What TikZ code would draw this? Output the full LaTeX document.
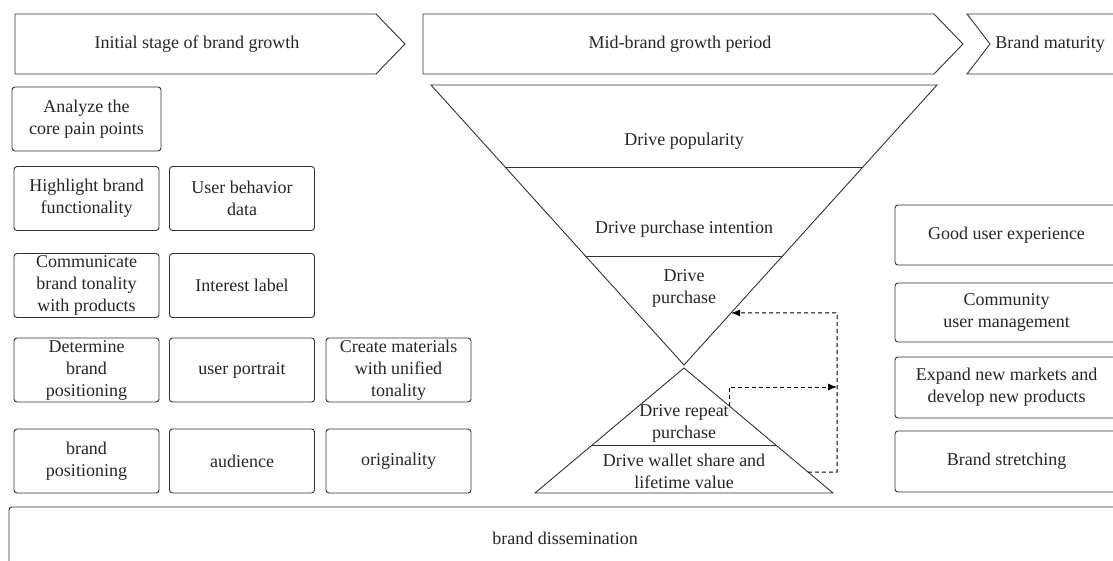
\documentclass[tikz,border=0pt]{standalone}
\usepackage{fontspec}
\setmainfont{Liberation Serif}
\usetikzlibrary{arrows.meta,calc}
\begin{document}
\begin{tikzpicture}[x=1pt,y=-1pt,line width=0.9pt,
    every node/.style={text=black!85,font=\fontsize{18}{22}\selectfont,align=center,inner sep=0pt},
    card/.style={draw=black!80,rounded corners=3pt,minimum width=#1,minimum height=64pt},
    card/.default=145pt,
    flow/.style={draw=black,line width=1pt,dash pattern=on 4pt off 3pt,-{Latex[length=9pt,width=7pt]}}]
    \useasboundingbox (0,0) rectangle (1113,561);
    \clip (0,0) rectangle (1113,561);
    \draw[black!80] (15,14) -- (376,14) -- (405,44) -- (376,74) -- (15,74) -- cycle;
    \draw[black!80] (423,14) -- (934,14) -- (963,44) -- (934,74) -- (423,74) -- cycle;
    \draw[black!80] (967,14) -- (1130,14) -- (1130,74) -- (967,74) -- (990,44) -- cycle;
    \node (initial) at (197,44) {Initial stage of brand growth};
    \node (mid) at (680,44) {Mid-brand growth period};
    \node[anchor=west] (mature) at (995,44) {Brand maturity};
    \coordinate (ftl) at (431,85);
    \coordinate (ftr) at (937,85);
    \coordinate (fb) at (684,365);
    \coordinate (ta) at (684,368);
    \coordinate (tl) at (535,493);
    \coordinate (tr) at (833,493);
    \draw[black!80] (ftl) -- (ftr) -- (fb) -- cycle;
    \draw[black!80] ($(ftl)!0.293!(fb)$) -- ($(ftr)!0.293!(fb)$);
    \draw[black!80] ($(ftl)!0.614!(fb)$) -- ($(ftr)!0.614!(fb)$);
    \draw[black!80] (ta) -- (tr) -- (tl) -- cycle;
    \draw[black!80] ($(ta)!0.616!(tl)$) -- ($(ta)!0.616!(tr)$);
    \node (popularity) at (684,141) {Drive popularity};
    \node (intention) at (684,229) {Drive purchase intention};
    \node (purchase) at (684,288) {Drive\\purchase};
    \node (repeat) at (684,423) {Drive repeat\\purchase};
    \node (wallet) at (684,471) {Drive wallet share and\\lifetime value};
    \node[card=149pt] (pain) at (86.5,119) {Analyze the\\core pain points};
    \node[card] (function) at (86.5,198.5) {Highlight brand\\functionality};
    \node[card] (behavior) at (242,198.5) {User behavior\\data};
    \node[card] (tonality) at (86.5,285.5) {Communicate\\brand tonality\\with products};
    \node[card] (interest) at (242,285.5) {Interest label};
    \node[card] (determine) at (86.5,370) {Determine\\brand\\positioning};
    \node[card] (portrait) at (242,370) {user portrait};
    \node[card] (materials) at (398.5,370) {Create materials\\with unified\\tonality};
    \node[card] (positioning) at (86.5,461) {brand\\positioning};
    \node[card] (audience) at (242,461) {audience};
    \node[card] (originality) at (398.5,461) {originality};
    \node[card=223pt,minimum height=60pt] (experience) at (1006.5,235) {Good user experience};
    \node[card=223pt,minimum height=59pt] (community) at (1006.5,312.5) {Community\\user management};
    \node[card=223pt,minimum height=61pt] (expand) at (1006.5,387.5) {Expand new markets and\\develop new products};
    \node[card=223pt,minimum height=61pt] (stretching) at (1006.5,461.5) {Brand stretching};
    \node[card=1112pt,minimum height=80pt] (dissemination) at (565,547) {};
    \node (disslabel) at (565,538) {brand dissemination};
    \coordinate (walletOut) at ($(ta)!0.832!(tr)$);
    \coordinate (loopTop) at (837,313);
    \coordinate (purchaseIn) at ($(ftr)!0.814!(fb)$);
    \coordinate (repeatOut) at ($(ta)!0.302!(tr)$);
    \coordinate (loopMid) at (837,387);
    \draw[flow] (walletOut) -| (loopTop) -- (purchaseIn);
    \draw[flow] (repeatOut) |- (loopMid);
\end{tikzpicture}
\end{document}
